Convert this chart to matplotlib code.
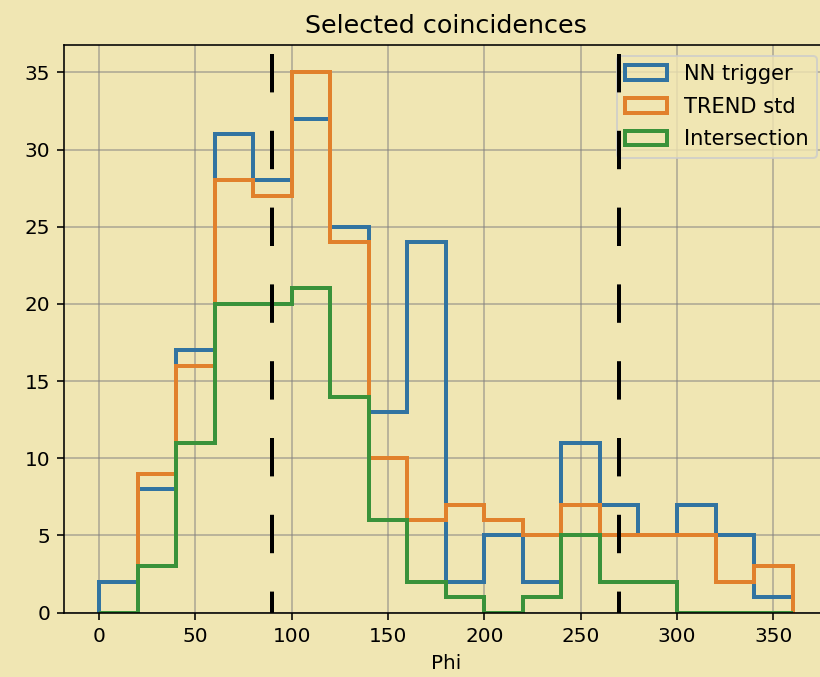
import matplotlib
matplotlib.use("Agg")
import matplotlib.pyplot as plt
import numpy as np

# ── Data: counts per 20-degree bin in Phi ──────────────────────────────────
edges = np.arange(0, 361, 20)
nn_trigger   = [2, 8, 17, 31, 28, 32, 25, 13, 24, 2, 5, 2, 11, 7, 5, 7, 5, 1]
trend_std    = [0, 9, 16, 28, 27, 35, 24, 10, 6, 7, 6, 5, 7, 5, 5, 5, 2, 3]
intersection = [0, 3, 11, 20, 20, 21, 14, 6, 2, 1, 0, 1, 5, 2, 2, 0, 0, 0]
markers = [90, 270]
# ───────────────────────────────────────────────────────────────────────────

bg = "#f0e6b3"
colors = ["#3274a1", "#e1812c", "#3a923a"]
centers = (edges[:-1] + edges[1:]) / 2

fig = plt.figure(figsize=(820 / 144, 677 / 144), dpi=144, facecolor=bg)
ax = fig.add_axes([64.3 / 820, 0.095, (827.3 - 64.3) / 820, 0.9331 - 0.095])
ax.set_facecolor(bg)

ax.hist(centers, bins=edges, weights=nn_trigger, histtype="step", lw=2,
        color=colors[0], label="NN trigger")
ax.hist(centers, bins=edges, weights=trend_std, histtype="step", lw=2,
        color=colors[1], label="TREND std")
ax.hist(centers, bins=edges, weights=intersection, histtype="step", lw=2,
        color=colors[2], label="Intersection")

ax.set_xlim(-18, 378)
ax.set_ylim(0, 36.75)

for m in markers:
    ax.plot([m, m], [36.2, 0], color="black", lw=2,
            linestyle=(0, (9.6, 9.6)), zorder=6)

ax.grid(True, color="gray", alpha=0.6, lw=0.8)
ax.set_title("Selected coincidences", fontsize=12.7)
ax.set_xlabel("Phi")
ax.legend(loc="upper right", facecolor=bg, fontsize=10.5, labelspacing=0.6)

plt.savefig("out.png", dpi=144, facecolor=bg)
